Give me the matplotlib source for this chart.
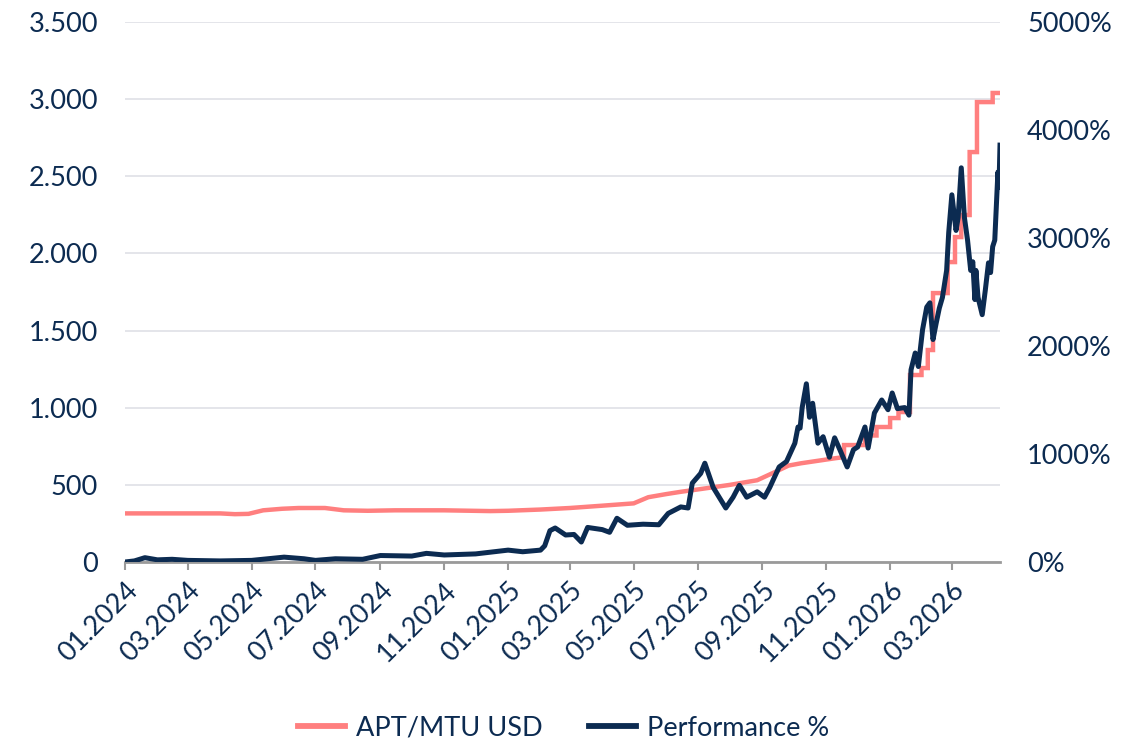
import matplotlib
matplotlib.use("Agg")
import matplotlib.pyplot as plt
import matplotlib.dates as mdates
from matplotlib.ticker import FuncFormatter
import pandas as pd

# ---------------- data ----------------
# APT/MTU price (left axis); repeated dates mark the step jumps of the series
price_dates = ["2024-01-01", "2024-04-01", "2024-04-15", "2024-04-28", "2024-05-12", "2024-05-30",
               "2024-06-15", "2024-07-10", "2024-07-28", "2024-08-20", "2024-09-15", "2024-11-01",
               "2024-12-15", "2025-01-01", "2025-02-01", "2025-03-01", "2025-04-01", "2025-05-01",
               "2025-05-15", "2025-06-01", "2025-06-15", "2025-07-01", "2025-08-01", "2025-08-27",
               "2025-09-12", "2025-09-26", "2025-10-08", "2025-11-09", "2025-11-18", "2025-11-18",
               "2025-12-08", "2025-12-08", "2025-12-19", "2025-12-19", "2026-01-01", "2026-01-01",
               "2026-01-09", "2026-01-09", "2026-01-20", "2026-01-20", "2026-01-31", "2026-01-31",
               "2026-02-06", "2026-02-06", "2026-02-11", "2026-02-11", "2026-02-25", "2026-02-25",
               "2026-03-04", "2026-03-04", "2026-03-10", "2026-03-10", "2026-03-18", "2026-03-18",
               "2026-03-25", "2026-03-25", "2026-04-09", "2026-04-09", "2026-04-16"]
price_values = [315, 315, 310, 312, 335, 345,
                350, 350, 335, 332, 335, 335,
                330, 332, 340, 350, 365, 380,
                420, 440, 455, 470, 500, 530,
                580, 625, 640, 672, 680, 758,
                758, 820, 820, 875, 875, 933,
                933, 972, 972, 1212, 1212, 1257,
                1257, 1374, 1374, 1743, 1743, 1944,
                1944, 2106, 2106, 2249, 2249, 2657,
                2657, 2981, 2981, 3040, 3040]

# Performance % (right axis)
perf_dates = ["2024-01-01", "2024-01-10", "2024-01-20", "2024-02-01", "2024-02-15", "2024-03-01",
              "2024-04-01", "2024-05-01", "2024-06-01", "2024-06-20", "2024-07-01", "2024-07-20",
              "2024-08-15", "2024-09-01", "2024-10-01", "2024-10-15", "2024-11-01", "2024-12-01",
              "2025-01-01", "2025-01-15", "2025-02-01", "2025-02-05", "2025-02-10", "2025-02-15",
              "2025-02-25", "2025-03-05", "2025-03-12", "2025-03-18", "2025-04-01", "2025-04-08",
              "2025-04-15", "2025-04-25", "2025-05-10", "2025-05-25", "2025-06-03", "2025-06-15",
              "2025-06-22", "2025-06-26", "2025-07-04", "2025-07-08", "2025-07-16", "2025-07-28",
              "2025-08-04", "2025-08-10", "2025-08-17", "2025-08-27", "2025-09-03", "2025-09-08",
              "2025-09-17", "2025-09-24", "2025-10-02", "2025-10-05", "2025-10-07", "2025-10-09",
              "2025-10-13", "2025-10-16", "2025-10-19", "2025-10-24", "2025-10-29", "2025-11-04",
              "2025-11-09", "2025-11-14", "2025-11-21", "2025-11-27", "2025-12-01", "2025-12-08",
              "2025-12-11", "2025-12-17", "2025-12-24", "2025-12-30", "2026-01-03", "2026-01-08",
              "2026-01-15", "2026-01-19", "2026-01-21", "2026-01-25", "2026-01-28", "2026-02-01",
              "2026-02-05", "2026-02-08", "2026-02-11", "2026-02-14", "2026-02-17", "2026-02-20",
              "2026-02-24", "2026-02-26", "2026-03-01", "2026-03-05", "2026-03-07", "2026-03-10",
              "2026-03-13", "2026-03-16", "2026-03-19", "2026-03-21", "2026-03-23", "2026-03-24",
              "2026-03-26", "2026-03-30", "2026-04-02", "2026-04-05", "2026-04-07", "2026-04-09",
              "2026-04-11", "2026-04-14", "2026-04-15", "2026-04-16"]
perf_values = [0, 10, 40, 20, 25, 15,
               10, 15, 45, 30, 15, 30,
               25, 60, 55, 80, 65, 75,
               110, 95, 110, 150, 290, 315,
               250, 255, 185, 320, 300, 275,
               405, 340, 350, 345, 450, 510,
               500, 730, 820, 915, 690, 500,
               600, 710, 600, 650, 600, 690,
               880, 930, 1100, 1250, 1240, 1430,
               1650, 1340, 1470, 1100, 1160, 970,
               1150, 1040, 880, 1040, 1065, 1250,
               1055, 1380, 1500, 1410, 1565, 1420,
               1430, 1360, 1780, 1935, 1810, 2150,
               2360, 2400, 2060, 2210, 2350, 2450,
               2700, 3050, 3400, 3070, 3190, 3650,
               3190, 2980, 2700, 2780, 2430, 2700,
               2450, 2290, 2520, 2770, 2680, 2920,
               2980, 3610, 3470, 3860]

price_label = "APT/MTU USD"
perf_label = "Performance %"
left_ticks = [0, 500, 1000, 1500, 2000, 2500, 3000, 3500]
right_ticks = [0, 1000, 2000, 3000, 4000, 5000]

# ---------------- style ----------------
NAVY = "#0c2b51"
PINK = "#ff7f7f"
GRID = "#dcdee4"
AXISGRAY = "#9a9a9a"
plt.rcParams["font.family"] = ["Lato", "DejaVu Sans"]
FS = 19.5

fig = plt.figure(figsize=(11.45, 7.42), dpi=100)
ax = fig.add_axes([125 / 1145, 1 - 562 / 742, 875 / 1145, 540 / 742])
ax2 = ax.twinx()

pdates = pd.to_datetime(price_dates)
qdates = pd.to_datetime(perf_dates)

l1, = ax.plot(pdates, price_values, color=PINK, lw=3.2, label=price_label,
              solid_joinstyle="miter")
l2, = ax2.plot(qdates, perf_values, color=NAVY, lw=3.6, label=perf_label,
               solid_joinstyle="round")

ax.set_ylim(0, 3500)
ax2.set_ylim(0, 5000)
ax.set_yticks(left_ticks)
ax2.set_yticks(right_ticks)
ax.yaxis.set_major_formatter(FuncFormatter(lambda v, p: f"{int(v):,}".replace(",", ".")))
ax2.yaxis.set_major_formatter(FuncFormatter(lambda v, p: f"{int(v)}%"))

ax.set_xlim(pd.Timestamp("2024-01-01"), pd.Timestamp("2026-04-16"))
ax.xaxis.set_major_locator(mdates.MonthLocator(bymonth=[1, 3, 5, 7, 9, 11]))
ax.xaxis.set_major_formatter(mdates.DateFormatter("%m.%Y"))

for a in (ax, ax2):
    for s in ("top", "left", "right", "bottom"):
        a.spines[s].set_visible(False)
ax.spines["bottom"].set_visible(True)
ax.spines["bottom"].set_color(AXISGRAY)
ax.spines["bottom"].set_linewidth(2)

ax.grid(axis="y", color=GRID, lw=1.1)
ax.set_axisbelow(True)

ax.tick_params(axis="y", length=0, pad=19.5, labelsize=FS, labelcolor=NAVY)
ax2.tick_params(axis="y", length=0, pad=19.5, labelsize=FS, labelcolor=NAVY)
ax.tick_params(axis="x", length=6, width=1.5, color=AXISGRAY, labelsize=FS, labelcolor=NAVY, pad=5)
for lab in ax.get_xticklabels():
    lab.set_rotation(45)
    lab.set_ha("right")
    lab.set_va("top")
    lab.set_rotation_mode("anchor")

leg = fig.legend(handles=[l1, l2], loc="center", bbox_to_anchor=(0.492, 1 - 728 / 742),
                 ncol=2, frameon=False, fontsize=FS, handlelength=1.75, handletextpad=0.4,
                 columnspacing=1.7)
for t in leg.get_texts():
    t.set_color(NAVY)
for h in leg.legend_handles:
    h.set_linewidth(4.2)

fig.savefig("out.png", dpi=100)
